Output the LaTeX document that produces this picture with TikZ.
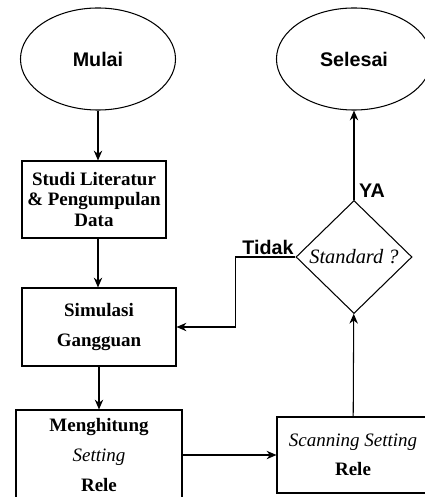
\documentclass[tikz,border=0pt]{standalone}
\usepackage{fontspec}
\setmainfont{Liberation Serif}
\newfontfamily\headfont{Liberation Sans}
\usetikzlibrary{shapes.geometric,arrows.meta}
\newcommand{\miring}[1]{\textmd{\textit{#1}}}
\begin{document}
\begin{tikzpicture}[x=0.025cm,y=-0.025cm,line width=0.75pt,
  >={Stealth[length=7pt,width=6pt]},
  terminal/.style={draw,ellipse,minimum width=3.875cm,minimum height=2.55cm,
    font=\headfont\fontsize{14}{16}\selectfont\bfseries},
  proses/.style={draw,rectangle,align=center,inner sep=1pt,
    font=\fontsize{13.5}{21}\selectfont\bfseries},
  teks/.style={font=\headfont\fontsize{14}{16}\selectfont\bfseries}]
\useasboundingbox (0,0) rectangle (425,497);
\clip (0,0) rectangle (425,497);

\node[terminal] (0) at (98,59) {Mulai};
\node[terminal] (6) at (354,59) {Selesai};

\node[proses,minimum width=3.6cm,minimum height=1.925cm,font=\fontsize{13.5}{14.5}\selectfont\bfseries] (1) at (94,199.5) {Studi Literatur\\\& Pengumpulan\\Data};
\node[proses,minimum width=3.85cm,minimum height=1.95cm] (2) at (99,327) {Simulasi\\Gangguan};
\node[proses,minimum width=4.15cm,minimum height=2.25cm] (3) at (99,455) {Menghitung\\\miring{Setting}\\Rele};
\node[proses,minimum width=3.8cm,minimum height=1.9cm] (4) at (353,455) {\miring{Scanning Setting}\\Rele};
\node[draw,diamond,inner sep=0pt,minimum width=2.9cm,minimum height=2.825cm,
  font=\fontsize{14.5}{16}\selectfont\itshape] (5) at (354,257) {Standard ?};

\draw[->] (0.south) -- (0.south |- 1.north);
\draw[->] (1.south -| 0.south) -- (2.north -| 0.south);
\draw[->] (2) -- (3);
\draw[->] (3) -- (4);
\draw[->] (4) -- (5);
\draw[->] (5) -- (5 |- 6.south) node[pos=0.1,right,teks] {YA};

\draw[->] (5.west) node[anchor=south east,inner sep=1pt,teks] {Tidak} -- ++(-60,0) |- (2.east);
\end{tikzpicture}
\end{document}
